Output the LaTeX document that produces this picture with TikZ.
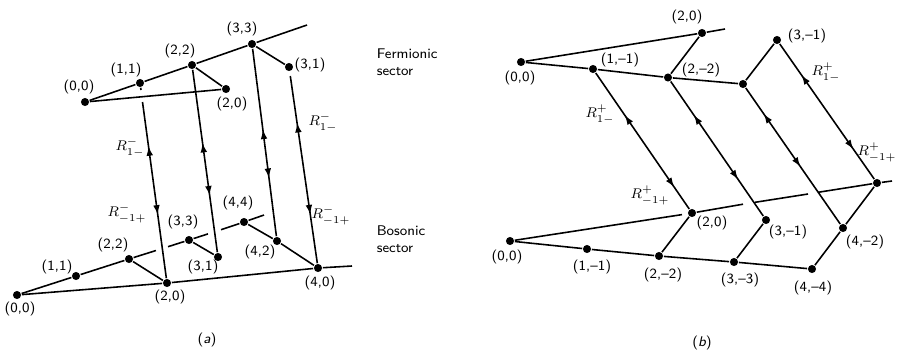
\documentclass[tikz,border=0pt]{standalone}
\usepackage{tikz}
\usetikzlibrary{arrows.meta,decorations.markings}

\begin{document}
\begin{tikzpicture}[
  x=0.02cm,y=-0.02cm,
  font=\footnotesize\sffamily,
  >=Latex,
  line width=0.9pt,
  dot/.style={circle,fill=black,inner sep=0pt,minimum size=4.6pt},
  lab/.style={inner sep=1pt},
  sect/.style={align=left,anchor=west,inner sep=0pt},
  updown/.style 2 args={postaction={decorate},decoration={markings,
    mark=at position #1 with {\arrowreversed{Latex[length=5.5pt,width=3.8pt]}},
    mark=at position #2 with {\arrow{Latex[length=5.5pt,width=3.8pt]}}}}
]
\useasboundingbox (0,0) rectangle (906,353);

% (a) fermionic sector
\node[dot] (aF00) at (85,102) {};
\node[dot] (aF11) at (140,83) {};
\node[dot] (aF22) at (192,65) {};
\node[dot] (aF33) at (252,44) {};
\node[dot] (aF20) at (226,89) {};
\node[dot] (aF31) at (289,67) {};
\coordinate (aFend) at (307,25);
\draw (aF00) -- (aF11) -- (aF22) -- (aF33) -- (aFend);
\draw (aF00) -- (aF20) -- (aF22);
\draw (aF33) -- (aF31);
\node[lab] (aF00t) at (79,87) {(0,0)};
\node[lab] (aF11t) at (126,70) {(1,1)};
\node[lab] (aF22t) at (180,51) {(2,2)};
\node[lab] (aF33t) at (242,29) {(3,3)};
\node[lab] (aF20t) at (232,104) {(2,0)};
\node[lab] (aF31t) at (310,65) {(3,1)};

% (a) bosonic sector, gaps where the arrows pass over
\node[dot] (aB00) at (17,295) {};
\node[dot] (aB11) at (76,276) {};
\node[dot] (aB22) at (129,259) {};
\node[dot] (aB33) at (189,240) {};
\node[dot] (aB44) at (244,222) {};
\node[dot] (aB20) at (167,283) {};
\node[dot] (aB31) at (218,257) {};
\node[dot] (aB42) at (277,241) {};
\node[dot] (aB40) at (318,268) {};
\coordinate (aBg1) at (156,250.5);
\coordinate (aBg2) at (168,246.7);
\coordinate (aBg3) at (208,233.9);
\coordinate (aBg4) at (221,229.7);
\coordinate (aBend) at (264,215);
\coordinate (aB0end) at (352,266);
\draw (aB00) -- (aB11) -- (aB22) -- (aBg1);
\draw (aBg2) -- (aB33) -- (aBg3);
\draw (aBg4) -- (aB44) -- (aBend);
\draw (aB00) -- (aB20) -- (aB40) -- (aB0end);
\draw (aB22) -- (aB20);
\draw (aB33) -- (aB31);
\draw (aB44) -- (aB42) -- (aB40);
\node[lab] (aB00t) at (20,309) {(0,0)};
\node[lab] (aB11t) at (57,267) {(1,1)};
\node[lab] (aB22t) at (113,245) {(2,2)};
\node[lab] (aB33t) at (183,222) {(3,3)};
\node[lab] (aB44t) at (238,203) {(4,4)};
\node[lab] (aB31t) at (203,267) {(3,1)};
\node[lab] (aB42t) at (260,252) {(4,2)};
\node[lab] (aB20t) at (170,297) {(2,0)};
\node[lab] (aB40t) at (320,283) {(4,0)};

% (a) transitions between the sectors
\coordinate (aL1a) at (141,90);
\coordinate (aL1b) at (142.5,102);
\coordinate (aL4) at (290.3,76);
\draw (aF11) -- (aL1a);
\draw[updown={.25}{.64}] (aL1b) -- (aB20);
\draw[updown={.40}{.69}] (aF22) -- (aB31);
\draw[updown={.43}{.69}] (aF33) -- (aB42);
\draw[updown={.25}{.74}] (aL4) -- (aB40);
\node (aRu1) at (130,147) {$R^{-}_{1-}$};
\node (aRd1) at (127,213) {$R^{-}_{-1+}$};
\node (aRu4) at (323,122) {$R^{-}_{1-}$};
\node (aRd4) at (331,215) {$R^{-}_{-1+}$};

\node[sect] (ferm) at (376,62) {Fermionic\\sector};
\node[sect] (bos) at (376,239) {Bosonic\\sector};
\node (capa) at (207,340) {({\itshape a})};

% (b) fermionic sector
\node[dot] (bF00) at (521,62) {};
\node[dot] (bF20) at (702,33) {};
\node[dot] (bF1m1) at (593,69) {};
\node[dot] (bF2m2) at (668,77.5) {};
\node[dot] (bF3m3) at (743,84) {};
\node[dot] (bF3m1) at (777,40) {};
\coordinate (bFend) at (725,29);
\draw (bF00) -- (bF20) -- (bFend);
\draw (bF00) -- (bF1m1) -- (bF2m2) -- (bF3m3);
\draw (bF2m2) -- (bF20);
\draw (bF3m3) -- (bF3m1);
\node[lab] (bF00t) at (520,78) {(0,0)};
\node[lab] (bF1m1t) at (620,60) {(1,--1)};
\node[lab] (bF2m2t) at (701,70) {(2,--2)};
\node[lab] (bF20t) at (687,17) {(2,0)};
\node[lab] (bF3m1t) at (807,36) {(3,--1)};

% (b) bosonic sector
\node[dot] (bB00) at (510,241) {};
\node[dot] (bB1m1) at (587,249) {};
\node[dot] (bB2m2) at (659,256) {};
\node[dot] (bB3m3) at (734,262) {};
\node[dot] (bB4m4) at (812,269) {};
\node[dot] (bB20) at (692,213) {};
\node[dot] (bB3m1) at (766,220) {};
\node[dot] (bB4m2) at (843,228) {};
\node[dot] (bB40) at (877,183) {};
\coordinate (bBg0) at (682,214.6);
\coordinate (bBg1) at (743,204.2);
\coordinate (bBg2) at (755,202.3);
\coordinate (bBg3) at (808,194);
\coordinate (bBg4) at (818,192.3);
\coordinate (bBend) at (892,181);
\draw (bB00) -- (bBg0);
\draw (bB20) -- (bBg1);
\draw (bBg2) -- (bBg3);
\draw (bBg4) -- (bB40) -- (bBend);
\draw (bB00) -- (bB1m1) -- (bB2m2) -- (bB3m3) -- (bB4m4);
\draw (bB2m2) -- (bB20);
\draw (bB3m3) -- (bB3m1);
\draw (bB4m4) -- (bB4m2) -- (bB40);
\node[lab] (bB00t) at (507,257) {(0,0)};
\node[lab] (bB1m1t) at (592,267) {(1,--1)};
\node[lab] (bB2m2t) at (663,275) {(2,--2)};
\node[lab] (bB3m3t) at (740,280) {(3,--3)};
\node[lab] (bB4m4t) at (813,288) {(4,--4)};
\node[lab] (bB20t) at (712,223) {(2,0)};
\node[lab] (bB3m1t) at (788,232) {(3,--1)};
\node[lab] (bB4m2t) at (865,242) {(4,--2)};

% (b) transitions between the sectors
\draw[updown={.31}{.84}] (bF1m1) -- (bB20);
\draw[updown={.25}{.73}] (bF2m2) -- (bB3m1);
\draw[updown={.19}{.58}] (bF3m3) -- (bB4m2);
\draw[updown={.23}{.78}] (bF3m1) -- (bB40);
\node (bRu1) at (600,114) {$R^{+}_{1-}$};
\node (bRd1) at (650,195) {$R^{+}_{-1+}$};
\node (bRu4) at (826,72) {$R^{+}_{1-}$};
\node (bRd4) at (877,152) {$R^{+}_{-1+}$};

\node (capb) at (702,343) {({\itshape b})};
\end{tikzpicture}
\end{document}
